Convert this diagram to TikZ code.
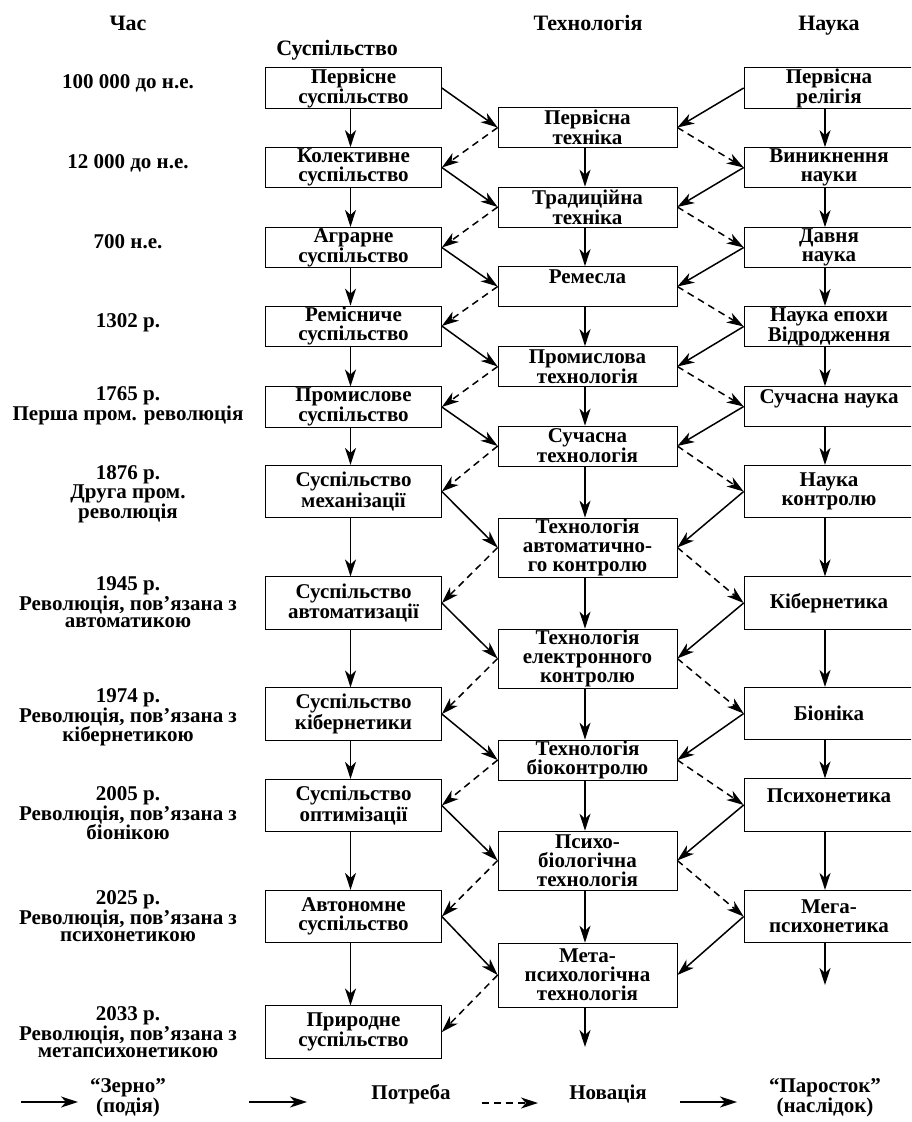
\documentclass[tikz,border=0pt]{standalone}
\usepackage{fontspec}
\setmainfont{Liberation Serif}
\usetikzlibrary{arrows.meta}

\tikzset{
  box/.style={draw, line width=0.7pt, minimum width=176pt, minimum height=40pt,
    inner sep=1pt, align=center, font=\fontsize{21}{19}\selectfont\bfseries},
  mid/.style={box, minimum width=179pt},
  sci/.style={box, minimum width=170pt},
  hi/.style={minimum height=52.5pt},
  hii/.style={minimum height=59pt},
  lab/.style={anchor=north, align=center, inner sep=0pt, font=\fontsize{21}{17.5}\selectfont\bfseries},
  leg/.style={align=center, inner sep=0pt, font=\fontsize{21}{17}\selectfont\bfseries},
  head/.style={anchor=base, font=\fontsize{22}{22}\selectfont\bfseries},
  arr/.style={line width=1.5pt, -{Stealth[length=17pt,width=11pt,inset=5pt]}},
  newarr/.style={arr, dash pattern=on 7pt off 5pt},
}

\begin{document}
\begin{tikzpicture}[x=1pt,y=-1pt]
\path[use as bounding box] (0,0) rectangle (911,1122);
\clip (0,0) rectangle (911,1122);

% headings
\node[head] (hc) at (128,30) {Час};
\node[head] (hs) at (337,55) {Суспільство};
\node[head] (ht) at (588,30) {Технологія};
\node[head] (hn) at (829,30) {Наука};

% time
\node[lab] (y1) at (128,74) {100 000 до н.е.};
\node[lab] (y2) at (128,154) {12 000 до н.е.};
\node[lab] (y3) at (128,234) {700 н.е.};
\node[lab] (y4) at (128,313) {1302 р.};
\node[lab] (y5) at (128,386) {1765 р.\\Перша пром. революція};
\node[lab] (y6) at (128,465) {1876 р.\\Друга пром.\\революція};
\node[lab] (y7) at (128,576) {1945 р.\\Революція, пов’язана з\\автоматикою};
\node[lab] (y8) at (128,688) {1974 р.\\Революція, пов’язана з\\кібернетикою};
\node[lab] (y9) at (128,786) {2005 р.\\Революція, пов’язана з\\біонікою};
\node[lab] (y10) at (128,890) {2025 р.\\Революція, пов’язана з\\психонетикою};
\node[lab] (y11) at (128,1006) {2033 р.\\Революція, пов’язана з\\метапсихонетикою};

% society
\node[box] (s1) at (353.5,88) {Первісне\\суспільство};
\node[box] (s2) at (353.5,167.5) {Колективне\\суспільство};
\node[box] (s3) at (353.5,247.5) {Аграрне\\суспільство};
\node[box] (s4) at (353.5,326) {Ремісниче\\суспільство};
\node[box] (s5) at (353.5,407) {Промислове\\суспільство};
\node[box,hi] (s6) at (353.5,491.5) {Суспільство\\механізації};
\node[box,hi] (s7) at (353.5,603) {Суспільство\\автоматизації};
\node[box,hi] (s8) at (353.5,714) {Суспільство\\кібернетики};
\node[box,hi] (s9) at (353.5,805.5) {Суспільство\\оптимізації};
\node[box,hi] (s10) at (353.5,916.5) {Автономне\\суспільство};
\node[box,hi] (s11) at (353.5,1032) {Природне\\суспільство};

% technology
\node[mid] (t1) at (587.5,127.5) {Первісна\\техніка};
\node[mid] (t2) at (587.5,207) {Традиційна\\техніка};
\node[mid] (t3) at (587.5,286.5) {Ремесла\\\mbox{}};
\node[mid] (t4) at (587.5,366.5) {Промислова\\технологія};
\node[mid] (t5) at (587.5,446) {Сучасна\\технологія};
\node[mid,hii] (t6) at (587.5,547.5) {Технологія\\автоматично-\\го контролю};
\node[mid,hii] (t7) at (587.5,658.5) {Технологія\\електронного\\контролю};
\node[mid] (t8) at (587.5,760) {Технологія\\біоконтролю};
\node[mid,hii] (t9) at (587.5,860.5) {Психо-\\біологічна\\технологія};
\node[mid,minimum height=64pt] (t10) at (587.5,975) {Мета-\\психологічна\\технологія};

% science
\node[sci] (n1) at (829,88) {Первісна\\релігія};
\node[sci] (n2) at (829,167.5) {Виникнення\\науки};
\node[sci] (n3) at (829,247.5) {Давня\\наука};
\node[sci] (n4) at (829,326.5) {Наука епохи\\Відродження};
\node[sci] (n5) at (829,406.5) {Сучасна наука\\\mbox{}};
\node[sci,hi] (n6) at (829,491.5) {Наука\\контролю};
\node[sci,hi] (n7) at (829,603) {Кібернетика};
\node[sci,hi] (n8) at (829,713.5) {Біоніка};
\node[sci,hi] (n9) at (829,805) {Психонетика\\\mbox{}};
\node[sci,hi] (n10) at (829,916.5) {Мега-\\психонетика};

\coordinate (tend) at (585,1047);
\coordinate (nend) at (825,985);

% arrows
\foreach \i [count=\j from 2] in {1,...,10} {
  \draw[arr] ([xshift=-3pt]s\i.south) -- ([xshift=-3pt]s\j.north);
  \draw[arr] (s\i.east) -- (t\i.west);
  \draw[arr] (n\i.west) -- (t\i.east);
  \draw[newarr] (t\i.west) -- (s\j.east);
}
\foreach \i [count=\j from 2] in {1,...,9} {
  \draw[arr] ([xshift=-2.5pt]t\i.south) -- ([xshift=-2.5pt]t\j.north);
  \draw[arr] ([xshift=-4pt]n\i.south) -- ([xshift=-4pt]n\j.north);
  \draw[newarr] (t\i.east) -- (n\j.west);
}
\draw[arr] ([xshift=-2.5pt]t10.south) -- (tend);
\draw[arr] ([xshift=-4pt]n10.south) -- (nend);

% legend
\coordinate (a1) at (21,1102);   \coordinate (b1) at (78,1102);
\coordinate (a2) at (249,1102);  \coordinate (b2) at (307,1102);
\coordinate (a3) at (482,1103);  \coordinate (b3) at (538,1103);
\coordinate (a4) at (680,1102);  \coordinate (b4) at (737,1102);
\draw[arr] (a1) -- (b1);
\draw[arr] (a2) -- (b2);
\draw[newarr] (a3) -- (b3);
\draw[arr] (a4) -- (b4);
\node[leg] (lz) at (128,1098) {“Зерно”\\(подія)};
\node[leg] (lp) at (411,1094) {Потреба};
\node[leg] (ln) at (608,1094) {Новація};
\node[leg] (lq) at (825,1098) {“Паросток”\\(наслідок)};
\end{tikzpicture}
\end{document}
